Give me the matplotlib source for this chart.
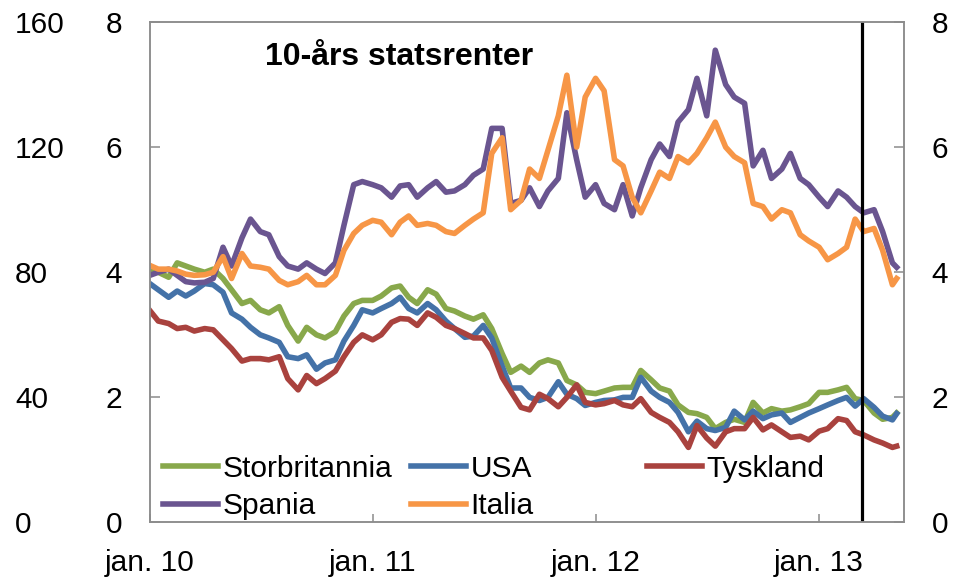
import pandas as pd
import matplotlib.pyplot as plt

plt.rcParams['font.family'] = ['Liberation Sans', 'DejaVu Sans']

# Semi-monthly observation dates (1st and 15th), last obs 8 May 2013
dates = list(pd.date_range("2010-01-01", "2013-05-01", freq="SMS")) + [pd.Timestamp("2013-05-08")]

storbritannia = [4.06, 4.00, 3.92, 4.15, 4.10, 4.05, 4.00, 4.05, 3.90, 3.72,
                 3.50, 3.55, 3.40, 3.35, 3.45, 3.15, 2.90, 3.12, 3.00, 2.95,
                 3.05, 3.30, 3.50, 3.55, 3.55, 3.62, 3.75, 3.78, 3.60, 3.50,
                 3.72, 3.65, 3.42, 3.38, 3.30, 3.25, 3.32, 3.10, 2.70, 2.40,
                 2.50, 2.40, 2.55, 2.60, 2.55, 2.27, 2.20, 2.08, 2.06, 2.10,
                 2.15, 2.16, 2.16, 2.43, 2.28, 2.15, 2.10, 1.88, 1.76, 1.74,
                 1.68, 1.50, 1.60, 1.65, 1.60, 1.92, 1.75, 1.82, 1.78, 1.80,
                 1.85, 1.90, 2.08, 2.08, 2.12, 2.16, 1.98, 1.95, 1.75, 1.65,
                 1.68, 1.75]

usa = [3.82, 3.72, 3.60, 3.70, 3.62, 3.70, 3.82, 3.80, 3.68, 3.35,
       3.25, 3.12, 3.00, 2.95, 2.88, 2.65, 2.62, 2.68, 2.45, 2.55,
       2.60, 2.90, 3.15, 3.40, 3.35, 3.42, 3.50, 3.60, 3.42, 3.35,
       3.50, 3.40, 3.22, 3.10, 2.96, 2.98, 3.15, 2.95, 2.50, 2.15,
       2.15, 2.00, 1.95, 2.00, 2.25, 2.05, 1.98, 1.87, 1.92, 1.95,
       1.96, 2.00, 2.00, 2.32, 2.10, 2.00, 1.92, 1.76, 1.45, 1.62,
       1.50, 1.47, 1.52, 1.78, 1.64, 1.78, 1.66, 1.72, 1.75, 1.60,
       1.68, 1.75, 1.82, 1.88, 1.95, 2.00, 1.86, 1.98, 1.84, 1.70,
       1.64, 1.74]

tyskland = [3.39, 3.22, 3.18, 3.10, 3.12, 3.06, 3.10, 3.08, 2.92, 2.78,
            2.58, 2.62, 2.62, 2.60, 2.65, 2.30, 2.12, 2.35, 2.22, 2.30,
            2.42, 2.65, 2.88, 3.00, 2.92, 3.00, 3.20, 3.26, 3.25, 3.15,
            3.35, 3.28, 3.15, 3.10, 3.02, 2.95, 2.95, 2.75, 2.32, 2.10,
            1.84, 1.80, 2.05, 1.98, 1.85, 2.00, 2.20, 1.92, 1.88, 1.90,
            1.95, 1.88, 1.85, 1.98, 1.76, 1.68, 1.60, 1.45, 1.20, 1.55,
            1.35, 1.22, 1.45, 1.50, 1.50, 1.68, 1.48, 1.56, 1.45, 1.36,
            1.38, 1.32, 1.46, 1.50, 1.66, 1.63, 1.45, 1.40, 1.32, 1.27,
            1.20, 1.22]

spania = [3.95, 4.00, 4.05, 3.95, 3.85, 3.83, 3.84, 3.90, 4.40, 4.10,
          4.55, 4.85, 4.65, 4.60, 4.25, 4.10, 4.05, 4.15, 4.05, 3.98,
          4.15, 4.75, 5.40, 5.45, 5.40, 5.35, 5.20, 5.38, 5.40, 5.20,
          5.35, 5.45, 5.28, 5.30, 5.40, 5.55, 5.65, 6.30, 6.30, 5.10,
          5.15, 5.35, 5.05, 5.30, 5.50, 6.55, 5.80, 5.20, 5.40, 5.10,
          5.00, 5.40, 4.90, 5.35, 5.80, 6.05, 5.85, 6.40, 6.60, 7.10,
          6.50, 7.55, 7.00, 6.80, 6.70, 5.70, 5.95, 5.50, 5.65, 5.90,
          5.50, 5.40, 5.20, 5.05, 5.30, 5.20, 5.05, 4.95, 5.00, 4.65,
          4.15, 4.08]

italia = [4.11, 4.05, 4.05, 4.02, 3.97, 3.95, 3.96, 4.00, 4.25, 3.90,
          4.30, 4.10, 4.08, 4.05, 3.87, 3.80, 3.85, 3.95, 3.80, 3.80,
          3.95, 4.35, 4.62, 4.75, 4.83, 4.80, 4.60, 4.80, 4.90, 4.75,
          4.78, 4.75, 4.65, 4.62, 4.75, 4.85, 4.95, 5.90, 6.15, 5.00,
          5.15, 5.65, 5.50, 5.95, 6.50, 7.15, 6.00, 6.80, 7.10, 6.90,
          5.80, 5.70, 5.20, 4.95, 5.30, 5.60, 5.50, 5.85, 5.75, 5.90,
          6.15, 6.40, 6.00, 5.85, 5.75, 5.10, 5.05, 4.85, 5.00, 4.95,
          4.60, 4.50, 4.40, 4.20, 4.30, 4.40, 4.85, 4.65, 4.70, 4.35,
          3.80, 3.90]

series = [
    ("Storbritannia", storbritannia, "#88a84b"),
    ("USA", usa, "#4472a8"),
    ("Tyskland", tyskland, "#a9423e"),
    ("Spania", spania, "#6a5590"),
    ("Italia", italia, "#f79646"),
]

year_ticks = ["2010-01-01", "2011-01-01", "2012-01-01", "2013-01-01"]
year_labels = ["jan. 10", "jan. 11", "jan. 12", "jan. 13"]
marker_date = pd.Timestamp("2013-03-13")

fig = plt.figure(figsize=(9.61, 5.81), dpi=100)
ax = fig.add_axes([0.1558, 0.1007, 0.7849, 0.8614])

lines = {}
for name, vals, col in series:
    lines[name], = ax.plot(dates, vals, color=col, lw=4.0, label=name)

ax.axvline(marker_date, color="black", lw=2.3)

ax.set_xlim(pd.Timestamp("2010-01-01"), pd.Timestamp("2013-05-20"))
ax.set_ylim(0, 8)
ax.set_yticks([0, 2, 4, 6, 8])
ax.set_xticks([pd.Timestamp(d) for d in year_ticks])
ax.set_xticklabels(year_labels)
ax.tick_params(axis="y", direction="in", length=7, width=1.1, color="#8c8c8c",
               labelsize=21.5, pad=20)
ax.tick_params(axis="x", direction="in", length=6, width=1.1, color="#8c8c8c",
               labelsize=21.5, pad=19)
for sp in ax.spines.values():
    sp.set_color("#8c8c8c")
    sp.set_linewidth(1.1)

# right axis, same scale
ax2 = ax.twinx()
ax2.set_ylim(0, 8)
ax2.set_yticks([0, 2, 4, 6, 8])
ax2.tick_params(axis="y", direction="in", length=7, width=1.1, color="#8c8c8c",
                labelsize=21.5, pad=20)
for sp in ax2.spines.values():
    sp.set_color("#8c8c8c")
    sp.set_linewidth(1.1)

# outer left scale (0-160)
sec = ax.secondary_yaxis("left", functions=(lambda v: v * 20, lambda v: v / 20))
sec.set_yticks([0, 40, 80, 120, 160])
sec.tick_params(length=0, labelsize=21.5, pad=97)
sec.spines["left"].set_visible(False)
for lab in sec.get_yticklabels():
    lab.set_horizontalalignment("left")

ax.text(0.153, 0.93, "10-års statsrenter", transform=ax.transAxes,
        fontsize=23, fontweight="bold", va="center", ha="left")

leg_kw = dict(frameon=False, fontsize=21.5, handlelength=1.84, handletextpad=0.17,
              labelspacing=0.32, borderpad=0, borderaxespad=0,
              bbox_transform=fig.transFigure, loc="upper left")
leg1 = ax.legend([lines["Storbritannia"], lines["Spania"], lines["USA"], lines["Italia"]],
                 ["Storbritannia", "Spania", "USA", "Italia"], ncol=2,
                 columnspacing=0.6, bbox_to_anchor=(0.1696, 0.2177), **leg_kw)
ax.add_artist(leg1)
ax.legend([lines["Tyskland"]], ["Tyskland"], bbox_to_anchor=(0.673, 0.2177), **leg_kw)

fig.savefig("out.png", dpi=100)
